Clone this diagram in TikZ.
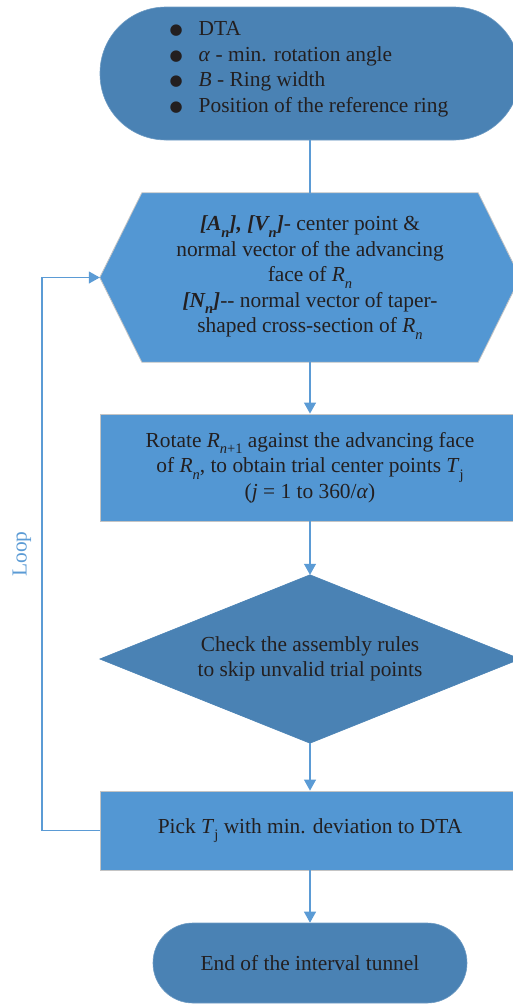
\documentclass[tikz,border=0pt]{standalone}
\usepackage{fontspec}
\usepackage{graphicx}
\setmainfont{Liberation Serif}
\newfontfamily\dejavu{DejaVu Sans}
\usetikzlibrary{arrows.meta,backgrounds}
\definecolor{dk}{RGB}{74,130,180}
\definecolor{lt}{RGB}{83,151,211}
\definecolor{ln}{RGB}{91,155,213}
\definecolor{edgegray}{RGB}{196,196,196}
\definecolor{txt}{RGB}{35,31,32}
\newcommand\mysub[1]{\raisebox{-0.3em}{\fontsize{14.5}{14.5}\selectfont #1}}
\newcommand\bul{\makebox[27pt][l]{\hspace*{-2pt}\raisebox{1pt}{\dejavu\fontsize{15}{15}\selectfont ●}}}
\tikzset{
  base/.style={font=\fontsize{21.4}{25.5}\selectfont, text=txt, align=center, inner sep=0pt},
  term/.style={base, fill=dk, draw=dk!80!white, line width=0.6pt},
  procbox/.style={base, fill=lt, draw=edgegray, line width=0.8pt, minimum width=420pt},
  ghost/.style={base, minimum width=420pt},
  conn/.style={draw=ln, line width=1.1pt},
  arr/.style={conn, -{Triangle[width=12pt,length=11pt]}}
}
\begin{document}
\begin{tikzpicture}[x=1pt,y=-1pt]
\useasboundingbox (0,0) rectangle (512,1004);
% start terminal
\node[term, minimum width=420pt, minimum height=133pt, rounded corners=66pt, align=left] (start) at (310,73.5)
 {\bul DTA\\ \bul \textit{α} - min. rotation angle\\ \bul \textit{B} - Ring width\\ \bul Position of the reference ring\\[-12pt]~};
% hexagon
\node[ghost, minimum height=169pt] (hex) at (310,277.5)
 {\textbf{\textit{[A\mysub{n}], [V\mysub{n}]}}- center point \&\\ normal vector of the advancing\\ face of \textit{R\mysub{n}}\\ \textbf{\textit{[N\mysub{n}]}}-{}- normal vector of taper-\\ shaped cross-section of \textit{R\mysub{n}}};
% rotate box
\node[procbox, minimum height=107pt] (rot) at (310,467.5)
 {Rotate \textit{R}\mysub{\textit{n}+1} against the advancing face\\ of \textit{R\mysub{n}}, to obtain trial center points \textit{T}\mysub{j}\\ (\textit{j} = 1 to 360/\textit{α})};
% diamond
\node[ghost, minimum height=168pt] (chk) at (310,659)
 {Check the assembly rules\\ to skip unvalid trial points};
% pick box
\node[procbox, minimum height=79pt] (pick) at (310,830.5)
 {Pick \textit{T}\mysub{j} with min. deviation to DTA};
% end terminal
\node[term, minimum width=314pt, minimum height=80pt, rounded corners=39.9pt] (end) at (310,963)
 {End of the interval tunnel};
\begin{scope}[on background layer]
\filldraw[fill=lt, draw=edgegray, line width=0.8pt]
  (hex.west) -- ([xshift=42pt]hex.north west) -- ([xshift=-42pt]hex.north east) -- (hex.east)
  -- ([xshift=-42pt]hex.south east) -- ([xshift=42pt]hex.south west) -- cycle;
\filldraw[fill=dk, draw=dk, line width=0.6pt]
  (chk.north) -- (chk.east) -- (chk.south) -- (chk.west) -- cycle;
\end{scope}
% connectors
\draw[conn] (start) -- (hex);
\draw[arr] (hex) -- (rot);
\draw[arr] (rot) -- (chk);
\draw[arr] (chk) -- (pick);
\draw[arr] (pick) -- (end);
\coordinate (lp) at (42,0);
\draw[arr] (pick.west) -- (pick.west -| lp) |- (hex.west);
\node[base, rotate=90, text=ln] (looplbl) at (22,554) {Loop};
\end{tikzpicture}
\end{document}
